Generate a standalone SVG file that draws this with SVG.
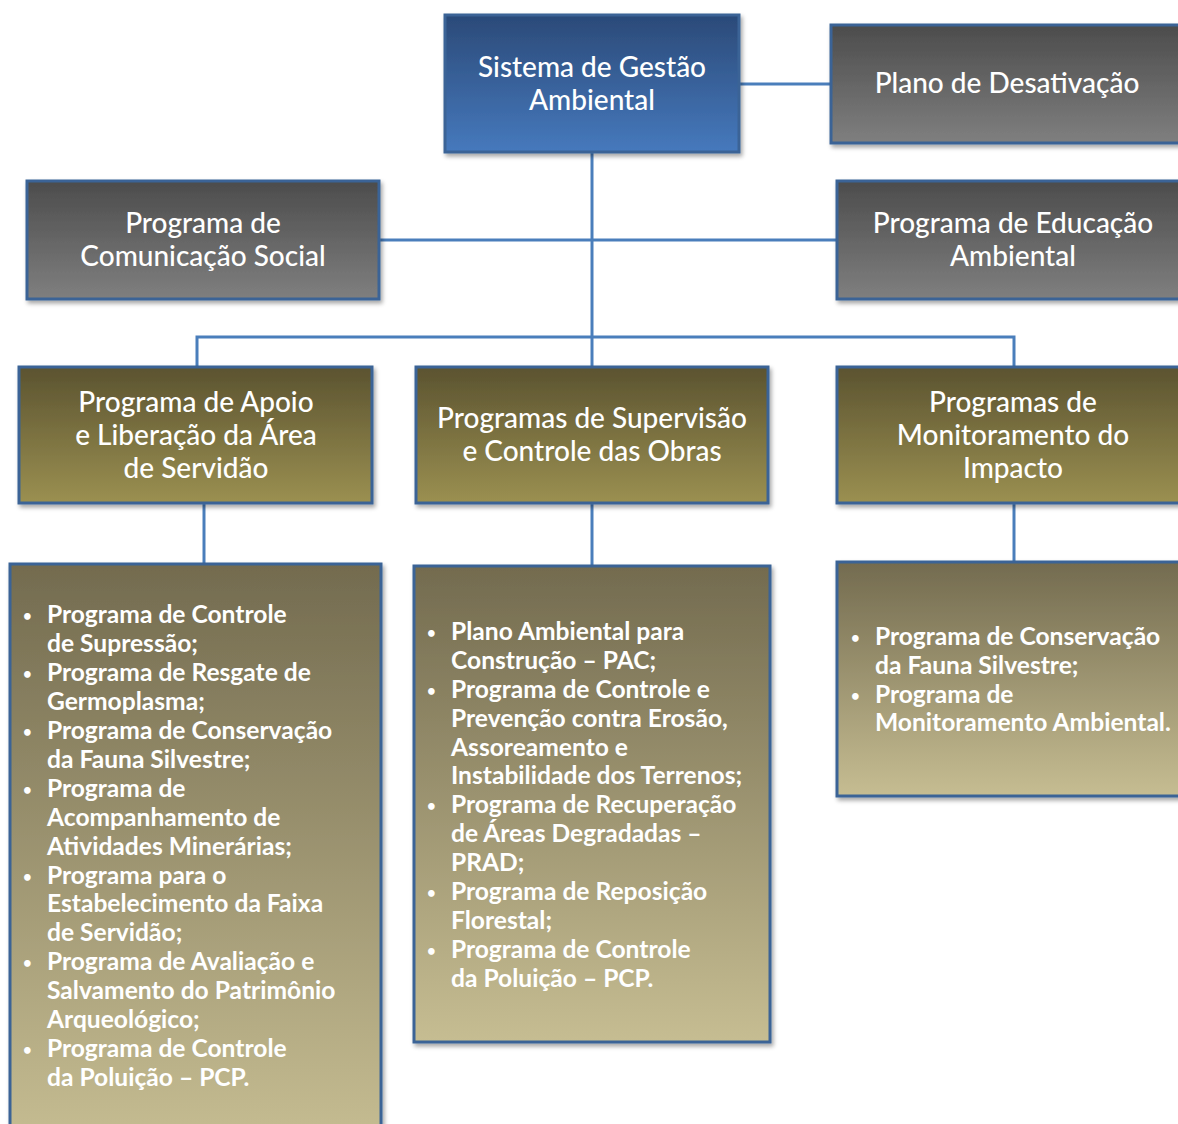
<svg xmlns="http://www.w3.org/2000/svg" width="1178" height="1124" viewBox="0 0 1178 1124">
<defs>
<linearGradient id="gBlue" x1="0" y1="0" x2="0" y2="1"><stop offset="0" stop-color="#2b4a78"/><stop offset="1" stop-color="#4679bd"/></linearGradient>
<linearGradient id="gGray" x1="0" y1="0" x2="0" y2="1"><stop offset="0" stop-color="#4c4c4c"/><stop offset="1" stop-color="#7f7f7f"/></linearGradient>
<linearGradient id="gOlive" x1="0" y1="0" x2="0" y2="1"><stop offset="0" stop-color="#5b5330"/><stop offset="1" stop-color="#9b9051"/></linearGradient>
<linearGradient id="gList" x1="0" y1="0" x2="0" y2="1"><stop offset="0" stop-color="#736b4f"/><stop offset="1" stop-color="#c6bd92"/></linearGradient>
<filter id="sh" x="-10%" y="-10%" width="130%" height="130%"><feDropShadow dx="2" dy="3" stdDeviation="2" flood-color="#000" flood-opacity="0.35"/></filter>
</defs>
<style>
.box{stroke:#3a6496;stroke-width:3;filter:url(#sh)}
.t{font-family:Lato,"Open Sans","Liberation Sans",sans-serif;font-size:28px;font-weight:500;fill:#fff;text-anchor:middle}
.l{font-family:Lato,"Open Sans","Liberation Sans",sans-serif;font-size:24.6px;font-weight:bold;fill:#fff}
.b{font-size:15px}
.c{stroke:#4a7ebb;stroke-width:3;fill:none}
</style>
<rect width="1178" height="1124" fill="#fff"/>
<g id="connectors">
<line class="c" x1="592" y1="152" x2="592" y2="338"/>
<line class="c" x1="739" y1="84" x2="831" y2="84"/>
<line class="c" x1="379" y1="240" x2="837" y2="240"/>
<polyline class="c" points="197,367 197,337 1014,337 1014,367"/>
<line class="c" x1="592" y1="338" x2="592" y2="367"/>
<line class="c" x1="204" y1="503" x2="204" y2="564"/>
<line class="c" x1="592" y1="503" x2="592" y2="566"/>
<line class="c" x1="1014" y1="503" x2="1014" y2="562"/>
</g>
<g id="sga">
<rect class="box" x="445" y="15" width="294" height="137" fill="url(#gBlue)"/>
<text class="t"><tspan x="592" y="77">Sistema de Gestão</tspan><tspan x="592" y="110">Ambiental</tspan></text>
</g>
<g id="desativacao">
<rect class="box" x="831" y="25" width="360" height="118" fill="url(#gGray)"/>
<text class="t"><tspan x="1007" y="93">Plano de Desativação</tspan></text>
</g>
<g id="comunicacao">
<rect class="box" x="27" y="181" width="352" height="118" fill="url(#gGray)"/>
<text class="t"><tspan x="203" y="233">Programa de</tspan><tspan x="203" y="266">Comunicação Social</tspan></text>
</g>
<g id="educacao">
<rect class="box" x="837" y="181" width="360" height="118" fill="url(#gGray)"/>
<text class="t"><tspan x="1013" y="233">Programa de Educação</tspan><tspan x="1013" y="266">Ambiental</tspan></text>
</g>
<g id="apoio">
<rect class="box" x="19" y="367" width="353" height="136" fill="url(#gOlive)"/>
<text class="t"><tspan x="196" y="412">Programa de Apoio</tspan><tspan x="196" y="445">e Liberação da Área</tspan><tspan x="196" y="478">de Servidão</tspan></text>
</g>
<g id="supervisao">
<rect class="box" x="416" y="367" width="352" height="136" fill="url(#gOlive)"/>
<text class="t"><tspan x="592" y="428">Programas de Supervisão</tspan><tspan x="592" y="461">e Controle das Obras</tspan></text>
</g>
<g id="monitoramento">
<rect class="box" x="837" y="367" width="360" height="136" fill="url(#gOlive)"/>
<text class="t"><tspan x="1013" y="412">Programas de</tspan><tspan x="1013" y="445">Monitoramento do</tspan><tspan x="1013" y="478">Impacto</tspan></text>
</g>
<g id="lista-apoio">
<rect class="box" x="10" y="564" width="371" height="580" fill="url(#gList)"/>
<text class="l">
<tspan class="b" x="23" y="621">•</tspan><tspan x="47" y="623">Programa de Controle</tspan>
<tspan x="47" y="652">de Supressão;</tspan>
<tspan class="b" x="23" y="679">•</tspan><tspan x="47" y="681">Programa de Resgate de</tspan>
<tspan x="47" y="710">Germoplasma;</tspan>
<tspan class="b" x="23" y="737">•</tspan><tspan x="47" y="739">Programa de Conservação</tspan>
<tspan x="47" y="768">da Fauna Silvestre;</tspan>
<tspan class="b" x="23" y="795">•</tspan><tspan x="47" y="797">Programa de</tspan>
<tspan x="47" y="826">Acompanhamento de</tspan>
<tspan x="47" y="855">Atividades Minerárias;</tspan>
<tspan class="b" x="23" y="882">•</tspan><tspan x="47" y="884">Programa para o</tspan>
<tspan x="47" y="912">Estabelecimento da Faixa</tspan>
<tspan x="47" y="941">de Servidão;</tspan>
<tspan class="b" x="23" y="968">•</tspan><tspan x="47" y="970">Programa de Avaliação e</tspan>
<tspan x="47" y="999">Salvamento do Patrimônio</tspan>
<tspan x="47" y="1028">Arqueológico;</tspan>
<tspan class="b" x="23" y="1055">•</tspan><tspan x="47" y="1057">Programa de Controle</tspan>
<tspan x="47" y="1086">da Poluição – PCP.</tspan>
</text>
</g>
<g id="lista-supervisao">
<rect class="box" x="414" y="566" width="356" height="476" fill="url(#gList)"/>
<text class="l">
<tspan class="b" x="427" y="638">•</tspan><tspan x="451" y="640">Plano Ambiental para</tspan>
<tspan x="451" y="669">Construção – PAC;</tspan>
<tspan class="b" x="427" y="696">•</tspan><tspan x="451" y="698">Programa de Controle e</tspan>
<tspan x="451" y="727">Prevenção contra Erosão,</tspan>
<tspan x="451" y="756">Assoreamento e</tspan>
<tspan x="451" y="784">Instabilidade dos Terrenos;</tspan>
<tspan class="b" x="427" y="811">•</tspan><tspan x="451" y="813">Programa de Recuperação</tspan>
<tspan x="451" y="842">de Áreas Degradadas –</tspan>
<tspan x="451" y="871">PRAD;</tspan>
<tspan class="b" x="427" y="898">•</tspan><tspan x="451" y="900">Programa de Reposição</tspan>
<tspan x="451" y="929">Florestal;</tspan>
<tspan class="b" x="427" y="956">•</tspan><tspan x="451" y="958">Programa de Controle</tspan>
<tspan x="451" y="987">da Poluição – PCP.</tspan>
</text>
</g>
<g id="lista-monitoramento">
<rect class="box" x="837" y="562" width="360" height="234" fill="url(#gList)"/>
<text class="l">
<tspan class="b" x="851" y="643">•</tspan><tspan x="875" y="645">Programa de Conservação</tspan>
<tspan x="875" y="674">da Fauna Silvestre;</tspan>
<tspan class="b" x="851" y="701">•</tspan><tspan x="875" y="703">Programa de</tspan>
<tspan x="875" y="731">Monitoramento Ambiental.</tspan>
</text>
</g>
</svg>
